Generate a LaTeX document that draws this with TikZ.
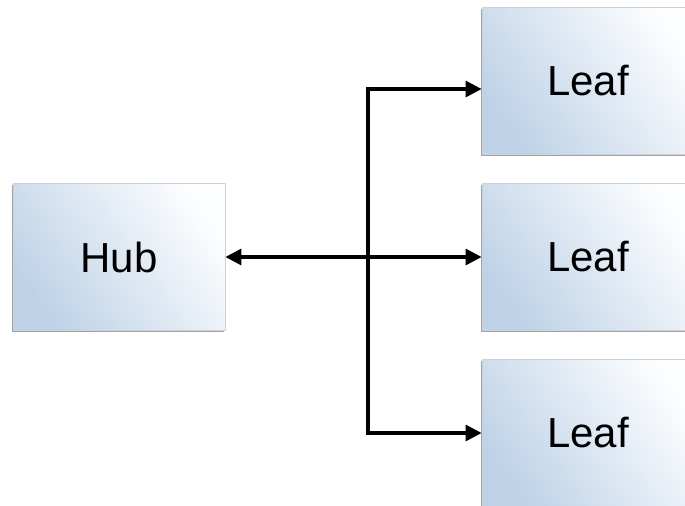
\documentclass[tikz,border=0pt]{standalone}
\usepackage{fontspec}
\setmainfont{Liberation Sans}
\usetikzlibrary{arrows.meta,positioning,shadows}
\definecolor{boxblue}{RGB}{190,210,231}
\definecolor{boxwhite}{RGB}{252,253,254}
\definecolor{boxedge}{RGB}{205,210,215}
\tikzset{
  box/.style={draw=boxedge, line width=0.4pt, minimum width=106pt, minimum height=73.5pt,
    inner sep=0pt, font=\fontsize{21}{25}\selectfont,
    bottom color=boxblue, top color=boxwhite, shading angle=-55,
    drop shadow={shadow xshift=-0.7pt, shadow yshift=-0.7pt, fill=gray!80, opacity=0.9}},
  link/.style={line width=1.6pt, -{Triangle[length=8pt,width=8pt]}}
}
\begin{document}
\begin{tikzpicture}[x=0.5pt,y=-0.5pt]
  \useasboundingbox (0,0) rectangle (685,506);
  \clip (0,0) rectangle (685,506);
  % boxes
  \node[box] (hub) at (119,257) {Hub};
  \node[box] (leafA) at (588,81) {Leaf};
  \node[box] (leafB) at (588,257) {Leaf};
  \node[box] (leafC) at (588,433) {Leaf};
  \coordinate (fork) at (368,257);
  % links
  \draw[link, {Triangle[length=8pt,width=8pt]}-{Triangle[length=8pt,width=8pt]}] (hub) -- (leafB);
  \draw[link] (fork) |- ([yshift=-4pt]leafA.west);
  \draw[link] (fork) |- (leafC);
\end{tikzpicture}
\end{document}
